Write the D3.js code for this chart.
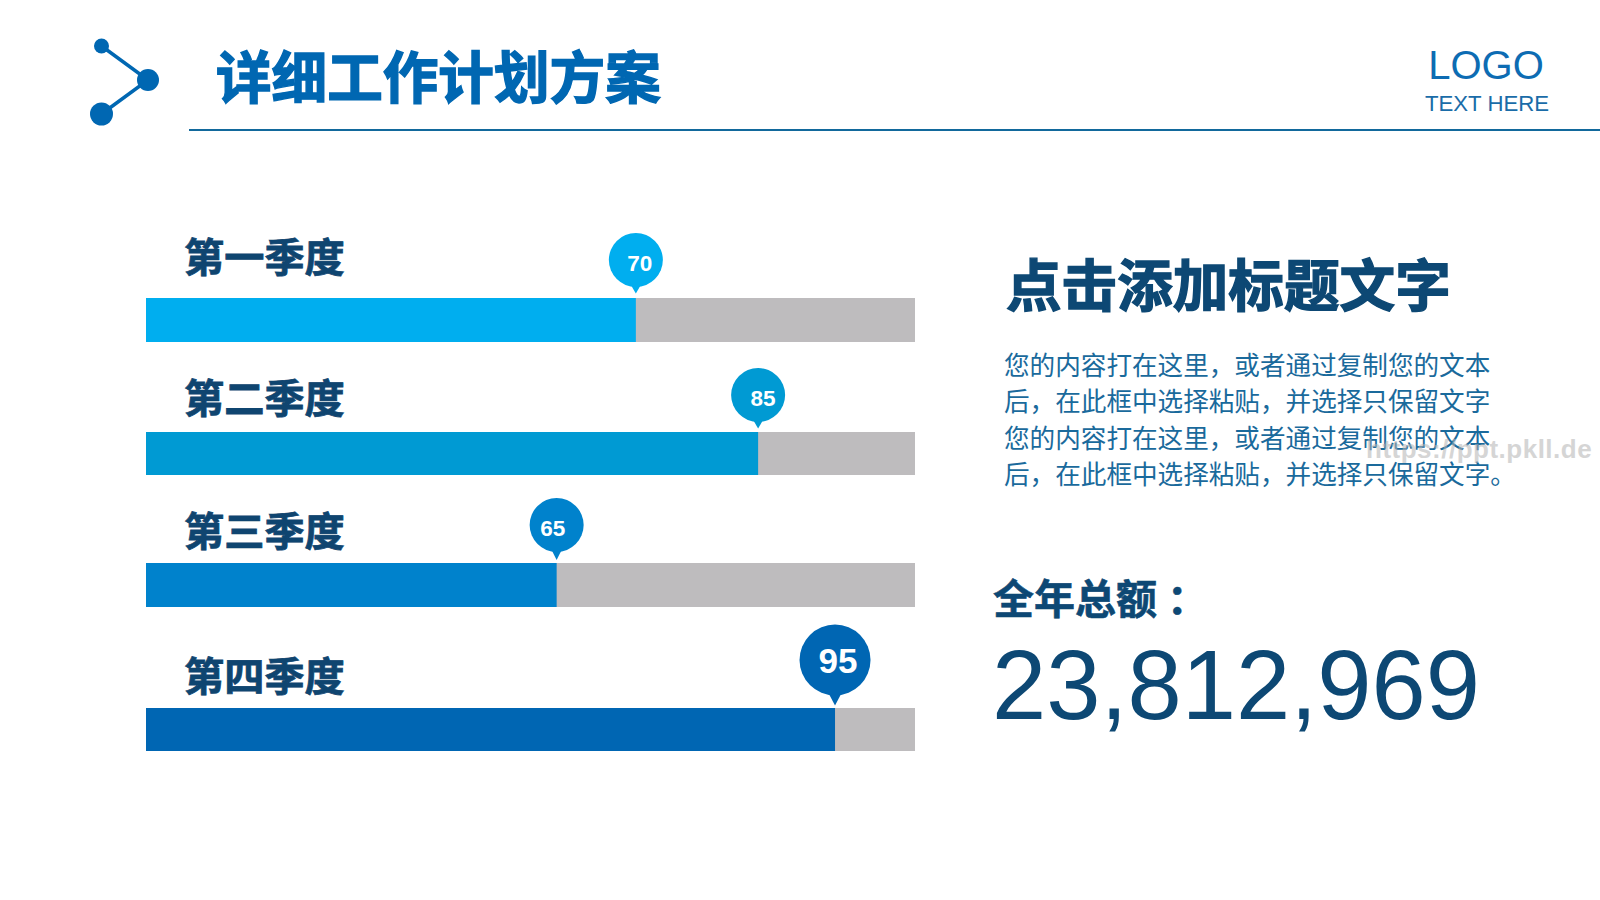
<!DOCTYPE html>
<html lang="zh">
<head>
<meta charset="utf-8">
<script src="https://cdn.jsdelivr.net/npm/d3@7"></script>
<style>
html,body{margin:0;padding:0;background:#fff;overflow:hidden}
svg{display:block}
text{font-family:"Noto Sans CJK SC","Liberation Sans",sans-serif}
.latin{font-family:"Liberation Sans",Arial,sans-serif}
</style>
</head>
<body>
<svg id="chart" width="1600" height="900"></svg>
<script>
// Data
const quarters = ["第一季度","第二季度","第三季度","第四季度"];
const labelValues = [70,85,65,95];
const barLengths = [63.7,79.6,53.4,89.6]; // drawn fill length, on a 0-100 track
const trackMax = 100;
const titleText = "详细工作计划方案";
const headingText = "点击添加标题文字";
const bodyLines = [
  "您的内容打在这里\uFF0C或者通过复制您的文本",
  "后\uFF0C在此框中选择粘贴\uFF0C并选择只保留文字",
  "您的内容打在这里\uFF0C或者通过复制您的文本",
  "后\uFF0C在此框中选择粘贴\uFF0C并选择只保留文字\u3002"
];
const totalLabel = "全年总额";
const totalColon = "\uFF1A";
const totalValue = 23812969;

// Layout and style
const barColors = ["#00aeef","#009ad3","#0082cc","#0066b3"];
const trackColor = "#bebcbe";
const barTop = [298,432,563,708];
const barH = [44,43,44,43];
const labelY = [257,398,531,676];
const bubbleR = [27,27,27,35.5];
const bubbleAbove = [38,37,38,48];
const tipLength = [33.5,33.5,35,45.5];
const numDx = [4,5,-4,3];
const numDy = [3,3,3,0];
const numSize = [22.5,22.5,22.5,35];
const bodyY = [375,411,448,484];

const svg = d3.select("#chart");
const x = d3.scaleLinear().domain([0,trackMax]).range([146,915]);

// Header
const brand = "#0067b2";
const nodes = [[101.5,46,7.5],[148,80,11],[101.5,114,11.5]];
svg.append("path").attr("d",d3.line()(nodes.map(n=>[n[0],n[1]]))).attr("fill","none").attr("stroke",brand).attr("stroke-width",3.5);
svg.selectAll("circle.node").data(nodes).join("circle").attr("class","node")
  .attr("cx",d=>d[0]).attr("cy",d=>d[1]).attr("r",d=>d[2]).attr("fill",brand);
svg.append("text").attr("x",216).attr("y",98).attr("font-size",55.6).attr("font-weight",700)
  .attr("fill",brand).attr("stroke",brand).attr("stroke-width",1.4).text(titleText);
svg.append("line").attr("x1",189).attr("x2",1600).attr("y1",130).attr("y2",130).attr("stroke","#12699c").attr("stroke-width",2);
svg.append("text").attr("class","latin").attr("x",1486).attr("y",79).attr("text-anchor","middle").attr("font-size",40).attr("fill","#0d6cb3").text("LOGO");
svg.append("text").attr("class","latin").attr("x",1487).attr("y",111).attr("text-anchor","middle").attr("font-size",22.2).attr("fill","#1a6ca8").text("TEXT HERE");

// Bars
const rows = svg.selectAll("g.row").data(quarters).join("g").attr("class","row");
rows.append("rect").attr("x",x(0)).attr("width",x(trackMax)-x(0)).attr("y",(d,i)=>barTop[i]).attr("height",(d,i)=>barH[i]).attr("fill",trackColor);
rows.append("rect").attr("x",x(0)).attr("width",(d,i)=>x(barLengths[i])-x(0)).attr("y",(d,i)=>barTop[i]).attr("height",(d,i)=>barH[i]).attr("fill",(d,i)=>barColors[i]);
rows.append("text").attr("x",184).attr("y",(d,i)=>labelY[i]+15).attr("font-size",40.2).attr("font-weight",700).attr("fill","#0f4570").attr("stroke","#0f4570").attr("stroke-width",.8).text(d=>d);

// Pins
const pins = rows.append("g").attr("transform",(d,i)=>`translate(${x(barLengths[i])},${barTop[i]-bubbleAbove[i]})`);
pins.append("path").attr("d",(d,i)=>{
  const r=bubbleR[i], t=tipLength[i];
  return `M${-r*0.2},${r*0.9}L0,${t}L${r*0.2},${r*0.9}Z`;
}).attr("fill",(d,i)=>barColors[i]);
pins.append("circle").attr("r",(d,i)=>bubbleR[i]).attr("fill",(d,i)=>barColors[i]);
pins.append("text").attr("class","latin").attr("x",(d,i)=>numDx[i]).attr("y",(d,i)=>numDy[i]).attr("dy",".36em")
  .attr("text-anchor","middle").attr("font-size",(d,i)=>numSize[i]).attr("font-weight",700).attr("fill","#fff").text((d,i)=>labelValues[i]);

// Right column
svg.append("text").attr("x",1006).attr("y",306).attr("font-size",55.6).attr("font-weight",700).attr("fill","#0d4874").attr("stroke","#0d4874").attr("stroke-width",1.4).text(headingText);
svg.selectAll("text.body").data(bodyLines).join("text").attr("class","body")
  .attr("x",1004).attr("y",(d,i)=>bodyY[i]).attr("font-size",25.6).attr("font-weight",400).attr("fill","#1a6a9c").text(d=>d);
svg.append("text").attr("x",1366).attr("y",458).attr("class","latin").attr("font-size",26).attr("font-weight",700).attr("letter-spacing",.5).attr("fill","#b4b4b4").attr("opacity",.55).text("https://ppt.pkll.de");
const total = svg.append("text").attr("x",993).attr("y",614).attr("font-size",41).attr("font-weight",700).attr("fill","#0d4874").attr("stroke","#0d4874").attr("stroke-width",.6);
total.append("tspan").text(totalLabel);
total.append("tspan").attr("dx",10).text(totalColon);
svg.append("text").attr("class","latin").attr("x",992).attr("y",718.5).attr("font-size",97.5).attr("fill","#0d4874").text(d3.format(",")(totalValue));
</script>
</body>
</html>
